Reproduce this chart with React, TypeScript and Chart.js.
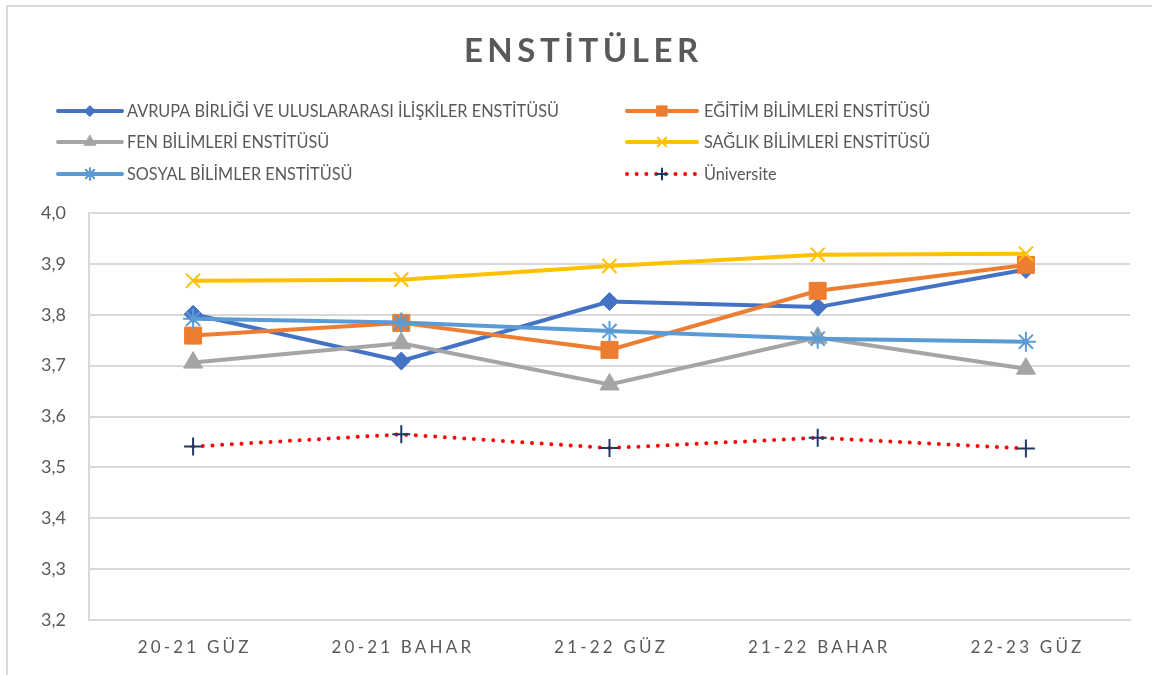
import React, { useEffect, useRef } from "react";
import Chart from "chart.js/auto";
import { drawPoint } from "chart.js/helpers";

const TITLE = "ENSTİTÜLER";
const CATEGORIES = ["20-21 GÜZ", "20-21 BAHAR", "21-22 GÜZ", "21-22 BAHAR", "22-23 GÜZ"];

const SERIES_NAMES = [
  "AVRUPA BİRLİĞİ VE ULUSLARARASI İLİŞKİLER ENSTİTÜSÜ",
  "EĞİTİM BİLİMLERİ ENSTİTÜSÜ",
  "FEN BİLİMLERİ ENSTİTÜSÜ",
  "SAĞLIK BİLİMLERİ ENSTİTÜSÜ",
  "SOSYAL BİLİMLER ENSTİTÜSÜ",
  "Üniversite",
];

const avrupa = [3.801, 3.709, 3.826, 3.815, 3.889];
const egitim = [3.759, 3.784, 3.731, 3.847, 3.898];
const fen = [3.706, 3.744, 3.663, 3.755, 3.694];
const saglik = [3.867, 3.869, 3.896, 3.918, 3.92];
const sosyal = [3.792, 3.785, 3.768, 3.753, 3.747];
const universite = [3.541, 3.565, 3.538, 3.558, 3.537];

const Y_MIN = 3.2;
const Y_MAX = 4.0;
const Y_STEP = 0.1;

const TEXT = "#595959";
const GRID = "#d9d9d9";
const FONT = "Lato, 'Open Sans', sans-serif";

const legendPlugin = {
  id: "customDecor",
  afterDraw(chart: any) {
    const ctx = chart.ctx as CanvasRenderingContext2D;
    ctx.save();
    // Title
    ctx.fillStyle = TEXT;
    ctx.font = `bold 33px ${FONT}`;
    (ctx as any).letterSpacing = "4.5px";
    ctx.textAlign = "left";
    ctx.textBaseline = "middle";
    const tw = ctx.measureText(TITLE).width - 4.5;
    ctx.fillText(TITLE, 581 - tw / 2, 51);

    // X labels with letter spacing
    const xs = chart.scales.x;
    ctx.font = `17px ${FONT}`;
    (ctx as any).letterSpacing = "3.2px";
    chart.data.labels.forEach((lab: string, i: number) => {
      const w = ctx.measureText(lab).width - 3.2;
      ctx.fillText(lab, xs.getPixelForValue(i) - w / 2, 648);
    });
    (ctx as any).letterSpacing = "0px";

    // Legend
    const cols = [
      { x0: 58, x1: 122, tx: 127 },
      { x0: 627, x1: 697, tx: 704 },
    ];
    const rows = [111, 142, 174];
    ctx.font = `16.3px ${FONT}`;
    chart.data.datasets.forEach((ds: any, i: number) => {
      const c = cols[i % 2];
      const y = rows[Math.floor(i / 2)];
      ctx.save();
      ctx.strokeStyle = ds.borderColor;
      ctx.lineWidth = ds.borderWidth;
      ctx.lineCap = "round";
      ctx.setLineDash(ds.borderDash || []);
      ctx.beginPath();
      ctx.moveTo(c.x0, y);
      ctx.lineTo(c.x1, y);
      ctx.stroke();
      ctx.setLineDash([]);
      ctx.fillStyle = ds.pointBackgroundColor;
      ctx.strokeStyle = ds.pointBorderColor;
      ctx.lineWidth = ds.pointBorderWidth;
      drawPoint(ctx, { pointStyle: ds.pointStyle, radius: ds.pointRadius * 0.6, borderWidth: ds.pointBorderWidth, rotation: 0 } as any, (c.x0 + c.x1) / 2, y);
      ctx.restore();
      ctx.fillStyle = TEXT;
      ctx.textAlign = "left";
      ctx.textBaseline = "middle";
      ctx.fillText(ds.label, c.tx, y + 1);
    });
    ctx.restore();
  },
};

export default function App() {
  const ref = useRef<HTMLCanvasElement>(null);
  useEffect(() => {
    if (!ref.current) return;
    const mk = (label: string, data: number[], color: string, style: string, radius: number, extra: any = {}) => ({
      label,
      data,
      borderColor: color,
      backgroundColor: color,
      borderWidth: 4,
      pointStyle: style,
      pointRadius: radius,
      pointHoverRadius: radius,
      pointBackgroundColor: color,
      pointBorderColor: color,
      pointBorderWidth: 1,
      tension: 0,
      ...extra,
    });
    const datasets = [
      mk(SERIES_NAMES[0], avrupa, "#4472C4", "rectRot", 9),
      mk(SERIES_NAMES[1], egitim, "#ED7D31", "rect", 12),
      mk(SERIES_NAMES[2], fen, "#A5A5A5", "triangle", 11),
      mk(SERIES_NAMES[3], saglik, "#FFC000", "crossRot", 10, { pointBorderWidth: 2 }),
      mk(SERIES_NAMES[4], sosyal, "#5B9BD5", "star", 10, { pointBorderWidth: 2 }),
      mk(SERIES_NAMES[5], universite, "#FF0000", "cross", 9, {
        borderDash: [0, 9.7],
        borderCapStyle: "round",
        pointBorderColor: "#1F3864",
        pointBackgroundColor: "#1F3864",
        pointBorderWidth: 2,
      }),
    ].map((d, i) => ({ ...d, order: -i }));

    const chart = new Chart(ref.current, {
      type: "line",
      data: { labels: CATEGORIES, datasets: datasets as any },
      options: {
        responsive: false,
        animation: false,
        layout: { padding: { top: 213, right: 22, left: 0, bottom: 0 } },
        plugins: { legend: { display: false }, title: { display: false }, tooltip: { enabled: false } },
        scales: {
          x: {
            offset: true,
            grid: { display: false, drawTicks: false },
            border: { display: true, color: GRID, width: 2 },
            ticks: { display: false },
            afterFit: (s: any) => { s.height = 55; },
          },
          y: {
            min: Y_MIN,
            max: Y_MAX,
            ticks: {
              stepSize: Y_STEP,
              color: TEXT,
              font: { size: 18, family: FONT },
              padding: 23,
              callback: (v: any) => Number(v).toFixed(1).replace(".", ","),
            },
            grid: { color: GRID, lineWidth: 2, drawTicks: false },
            border: { display: true, color: GRID, width: 2 },
            afterFit: (s: any) => { s.width = 89; },
          },
        },
      },
      plugins: [legendPlugin],
    });
    return () => chart.destroy();
  }, []);
  return (
    <div style={{ position: "absolute", left: 0, top: 0, width: 1152, height: 675, background: "#fff", overflow: "hidden" }}>
      <div style={{ position: "absolute", left: 6, top: 5, width: 1200, height: 700, borderLeft: `2px solid ${GRID}`, borderTop: `2px solid ${GRID}` }} />
      <canvas ref={ref} width={1152} height={675} style={{ position: "absolute", left: 0, top: 0 }} />
    </div>
  );
}
